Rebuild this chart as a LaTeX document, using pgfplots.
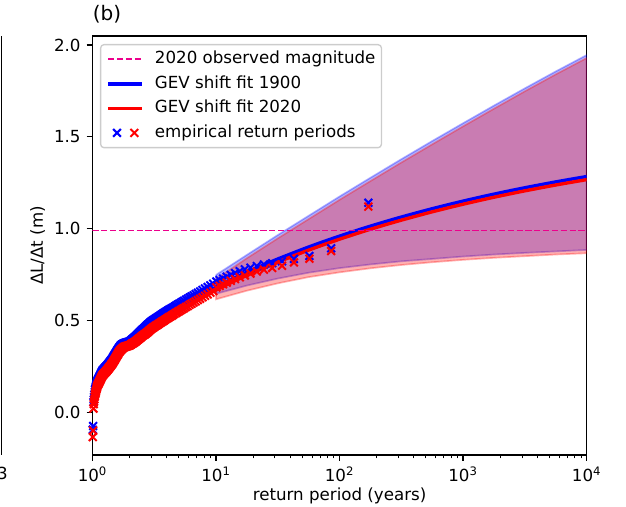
\documentclass[border=0pt]{standalone}
\usepackage{pgfplots}
\pgfplotsset{compat=1.18}
\usepackage{pgfplotstable}
\usepackage{fontspec}
\setmainfont{DejaVu Sans}

\pgfplotstableread{
T b r
171 1.141 1.120
85.5 0.893 0.878
57 0.851 0.836
42.75 0.835 0.816
34.2 0.822 0.798
28.5 0.812 0.786
24.43 0.805 0.776
21.375 0.796 0.766
19 0.787 0.755
17.1 0.778 0.745
15.545 0.768 0.735
14.25 0.758 0.725
13.154 0.748 0.716
12.214 0.738 0.706
11.4 0.728 0.697
10.688 0.720 0.688
10.059 0.712 0.680
9.5 0.700 0.660
9 0.691 0.651
8.55 0.682 0.642
8.143 0.674 0.634
7.773 0.666 0.626
7.435 0.658 0.618
7.125 0.651 0.611
6.84 0.644 0.604
6.577 0.637 0.597
6.333 0.631 0.591
6.107 0.625 0.585
5.897 0.618 0.578
5.7 0.613 0.573
5.516 0.607 0.567
5.344 0.602 0.562
5.182 0.596 0.556
5.029 0.591 0.551
4.886 0.586 0.546
4.75 0.581 0.541
4.622 0.576 0.536
4.5 0.571 0.531
4.385 0.566 0.526
4.275 0.562 0.522
4.171 0.558 0.518
4.071 0.553 0.513
3.977 0.549 0.509
3.886 0.545 0.505
3.8 0.540 0.500
3.717 0.536 0.496
3.638 0.532 0.492
3.5625 0.528 0.488
3.49 0.524 0.484
3.42 0.520 0.480
3.353 0.516 0.476
3.288 0.513 0.473
3.226 0.509 0.469
3.167 0.505 0.465
3.109 0.502 0.462
3.054 0.498 0.458
3 0.495 0.455
2.948 0.490 0.450
2.898 0.486 0.446
2.85 0.481 0.441
2.803 0.477 0.437
2.758 0.472 0.433
2.714 0.468 0.430
2.672 0.463 0.426
2.631 0.459 0.423
2.591 0.455 0.420
2.552 0.451 0.417
2.515 0.447 0.414
2.478 0.442 0.410
2.443 0.438 0.406
2.408 0.434 0.403
2.375 0.430 0.400
2.342 0.426 0.397
2.311 0.422 0.394
2.28 0.418 0.390
2.25 0.414 0.387
2.221 0.410 0.384
2.192 0.407 0.382
2.165 0.404 0.379
2.138 0.401 0.377
2.111 0.398 0.375
2.085 0.395 0.373
2.06 0.392 0.370
2.036 0.389 0.368
2.012 0.386 0.366
1.988 0.384 0.364
1.966 0.383 0.363
1.943 0.382 0.362
1.921 0.381 0.361
1.9 0.380 0.360
1.879 0.379 0.359
1.859 0.378 0.358
1.839 0.377 0.357
1.819 0.376 0.356
1.8 0.375 0.355
1.781 0.373 0.352
1.763 0.372 0.350
1.745 0.370 0.347
1.727 0.368 0.344
1.71 0.366 0.342
1.693 0.364 0.339
1.676 0.359 0.335
1.66 0.355 0.332
1.644 0.351 0.328
1.629 0.347 0.325
1.613 0.343 0.318
1.598 0.339 0.314
1.583 0.335 0.310
1.569 0.330 0.305
1.555 0.326 0.301
1.541 0.321 0.296
1.527 0.317 0.292
1.513 0.312 0.287
1.5 0.308 0.283
1.487 0.304 0.279
1.474 0.300 0.275
1.462 0.295 0.270
1.449 0.291 0.266
1.437 0.288 0.263
1.425 0.285 0.260
1.413 0.281 0.256
1.402 0.278 0.253
1.39 0.275 0.250
1.379 0.272 0.247
1.368 0.269 0.244
1.357 0.266 0.241
1.346 0.263 0.238
1.336 0.260 0.235
1.326 0.257 0.232
1.315 0.254 0.229
1.305 0.252 0.227
1.295 0.249 0.224
1.286 0.247 0.222
1.276 0.244 0.219
1.267 0.242 0.217
1.257 0.240 0.215
1.248 0.237 0.212
1.239 0.235 0.210
1.23 0.233 0.208
1.221 0.230 0.205
1.213 0.228 0.203
1.204 0.226 0.201
1.196 0.222 0.197
1.1875 0.218 0.193
1.179 0.214 0.189
1.171 0.209 0.184
1.163 0.205 0.180
1.155 0.201 0.176
1.148 0.197 0.172
1.14 0.193 0.168
1.132 0.189 0.164
1.125 0.185 0.160
1.118 0.181 0.156
1.11 0.178 0.153
1.103 0.174 0.149
1.096 0.170 0.145
1.089 0.163 0.138
1.082 0.156 0.131
1.075 0.149 0.124
1.069 0.142 0.117
1.062 0.136 0.111
1.056 0.129 0.104
1.049 0.122 0.097
1.043 0.110 0.085
1.036 0.096 0.071
1.03 0.083 0.058
1.024 0.069 0.044
1.018 0.055 0.020
1.012 -0.075 -0.100
1.006 -0.095 -0.135
}\emp

\begin{document}
\begin{tikzpicture}
\useasboundingbox (0,0) rectangle (375.6pt,304.2pt);
\draw[line width=0.8pt] (1.0pt,31.2pt) -- (1.0pt,282.6pt);
\node[anchor=base east, inner sep=0pt] at (4.8pt,16.2pt) {3};
\begin{axis}[
  at={(55.5pt,31.2pt)}, anchor=south west,
  width=296.5pt, height=251.4pt, scale only axis,
  xmode=log, log basis x=10,
  xmin=1, xmax=10000, ymin=-0.2327, ymax=2.049,
  xtick={1,10,100,1000,10000},
  xticklabels={10\textsuperscript{0},10\textsuperscript{1},10\textsuperscript{2},10\textsuperscript{3},10\textsuperscript{4}},
  minor xtick={2,3,4,5,6,7,8,9,20,30,40,50,60,70,80,90,200,300,400,500,600,700,800,900,2000,3000,4000,5000,6000,7000,8000,9000},
  ytick={0,0.5,1,1.5,2}, yticklabels={0.0,0.5,1.0,1.5,2.0},
  tick align=outside, tick pos=left,
  major tick length=3.5pt, minor tick length=2pt,
  every tick/.style={black, line width=0.8pt},
  every minor tick/.append style={line width=0.6pt},
  axis line style={line width=0.8pt},
  xticklabel style={anchor=north, inner sep=0pt, yshift=-3.5pt},
  yticklabel style={anchor=east, inner sep=0pt, xshift=-3.5pt},
  title={(b)},
  title style={at={(rel axis cs:0,1)}, anchor=base west, inner sep=0pt, yshift=3pt, font=\fontsize{12}{14}\selectfont},
  xlabel={return period (years)},
  every axis x label/.style={at={(rel axis cs:0.5,0)}, anchor=base, inner sep=0pt, yshift=-27.5pt},
  ylabel={ΔL/Δt (m)},
  every axis y label/.style={at={(rel axis cs:0,0.5)}, xshift=-29.8pt, rotate=90, anchor=base, inner sep=0pt},
  legend cell align=left,
  legend image code/.code={\draw[#1] (0pt,0pt) -- (20pt,0pt); \path[draw=none] (0pt,0pt) -- (28pt,0pt);},
  legend style={at={(rel axis cs:0,1)}, anchor=north west, xshift=4.5pt, yshift=-4.8pt,
    draw=black!20, line width=0.8pt, rounded corners=2pt, fill=white, fill opacity=0.8, text opacity=1,
    inner xsep=3.6pt, inner ysep=4pt, row sep=5pt,
    nodes={inner sep=0pt, text height=7.4pt, text depth=2.3pt}},
]
\addlegendimage{draw=magenta, line width=1.1pt, dash pattern=on 3.7pt off 1.6pt, draw opacity=1}
\addlegendimage{draw=blue, line width=2pt}
\addlegendimage{draw=red, line width=2pt}
\addlegendimage{legend image code/.code={
  \path[draw=blue, line width=1.2pt] plot[mark=x, mark size=3.3pt, mark options={draw=blue}] coordinates {(5.2pt,0pt)};
  \path[draw=red, line width=1.2pt] plot[mark=x, mark size=3.3pt, mark options={draw=red}] coordinates {(15.6pt,0pt)};
  \path[draw=none] (0pt,0pt) -- (28pt,0pt);}}

% confidence bands
\addplot[fill=blue, fill opacity=0.3, draw=blue, draw opacity=0.3, line width=1pt, forget plot] coordinates {
(10,0.748) (17.78,0.857) (31.62,0.965) (56.23,1.070) (100,1.175) (177.8,1.277) (316.2,1.378) (562.3,1.477) (1000,1.574) (1778,1.670) (3162,1.764) (5623,1.856) (10000,1.945)
(10000,0.884) (5623,0.876) (3162,0.868) (1778,0.859) (1000,0.848) (562.3,0.835) (316.2,0.822) (177.8,0.805) (100,0.785) (56.23,0.760) (31.62,0.728) (17.78,0.690) (10,0.645) (10,0.748)};
\addplot[fill=red, fill opacity=0.3, draw=red, draw opacity=0.3, line width=1pt, forget plot] coordinates {
(10,0.725) (17.78,0.839) (31.62,0.947) (56.23,1.052) (100,1.157) (177.8,1.259) (316.2,1.360) (562.3,1.459) (1000,1.557) (1778,1.653) (3162,1.748) (5623,1.840) (10000,1.929)
(10000,0.866) (5623,0.859) (3162,0.850) (1778,0.841) (1000,0.830) (562.3,0.817) (316.2,0.802) (177.8,0.784) (100,0.762) (56.23,0.736) (31.62,0.702) (17.78,0.662) (10,0.615) (10,0.725)};

% empirical return periods
\addplot[only marks, mark=x, mark size=3.3pt, blue, line width=1.2pt, forget plot] table[x=T, y=b] {\emp};
\addplot[only marks, mark=x, mark size=3.3pt, red, line width=1.2pt, forget plot] table[x=T, y=r] {\emp};

% GEV fits
\addplot[blue, line width=2pt, smooth, forget plot] coordinates {
(2,0.3756) (2.25,0.4061) (2.5,0.4315) (3,0.4721) (3.5,0.5038) (4,0.5297) (5,0.5706) (7,0.6272) (10,0.6823) (15,0.7398) (20,0.7779) (30,0.8284) (50,0.8871) (70,0.9232) (100,0.9594) (150,0.9981) (200,1.0240) (300,1.0588) (500,1.0995) (700,1.1246) (1000,1.1499) (1500,1.1770) (2000,1.1952) (3000,1.2196) (5000,1.2482) (7000,1.2658) (10000,1.2837)};
\addplot[red, line width=2pt, smooth, forget plot] coordinates {
(2,0.3586) (2.25,0.3891) (2.5,0.4145) (3,0.4551) (3.5,0.4868) (4,0.5127) (5,0.5536) (7,0.6102) (10,0.6653) (15,0.7228) (20,0.7609) (30,0.8114) (50,0.8701) (70,0.9062) (100,0.9424) (150,0.9811) (200,1.0070) (300,1.0418) (500,1.0825) (700,1.1076) (1000,1.1329) (1500,1.1600) (2000,1.1782) (3000,1.2026) (5000,1.2312) (7000,1.2488) (10000,1.2667)};

% observed magnitude
\addplot[magenta, line width=1pt, dash pattern=on 3.7pt off 1.6pt, forget plot] coordinates {(1,0.99) (10000,0.99)};

\legend{2020 observed magnitude, GEV shift fit 1900, GEV shift fit 2020, empirical return periods}
\end{axis}
\end{tikzpicture}
\end{document}
